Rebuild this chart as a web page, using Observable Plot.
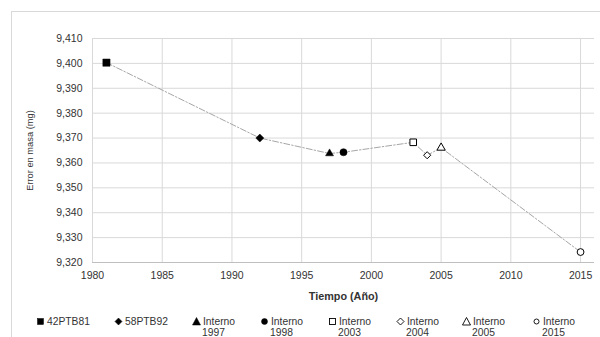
<!DOCTYPE html>
<html>
<head>
<meta charset="utf-8">
<script src="https://cdn.jsdelivr.net/npm/d3@7"></script>
<script src="https://cdn.jsdelivr.net/npm/@observablehq/plot@0.6"></script>
<style>
  html, body { margin: 0; padding: 0; background: #fff; }
  #wrap { position: relative; width: 600px; height: 337px; overflow: hidden; font-family: "Liberation Sans", Arial, sans-serif; color: #333; }
  #frame { position: absolute; left: 11px; top: 11px; width: 640px; height: 400px; border: 1px solid #d9d9d9; box-sizing: border-box; }
  #chart { position: absolute; left: 0; top: 0; }
  #legend { position: absolute; left: 0; top: 0; width: 600px; height: 337px; font-size: 10.3px; line-height: 10.5px; }
  .item { position: absolute; top: 317px; text-align: center; white-space: nowrap; }
  .item svg { vertical-align: -1px; margin-right: 2px; }
</style>
</head>
<body>
<div id="wrap">
  <div id="frame"></div>
  <div id="chart"></div>
  <div id="legend"></div>
</div>
<script>
// ---- data ----
const names = ["42PTB81", "58PTB92", "Interno 1997", "Interno 1998", "Interno 2003", "Interno 2004", "Interno 2005", "Interno 2015"];
const years = [1981, 1992, 1997, 1998, 2003, 2004, 2005, 2015];
const values = [9.4003, 9.3700, 9.3638, 9.3643, 9.3683, 9.3631, 9.3661, 9.3242];
const yTicks = [9.32, 9.33, 9.34, 9.35, 9.36, 9.37, 9.38, 9.39, 9.40, 9.41];
const xTicks = [1980, 1985, 1990, 1995, 2000, 2005, 2010, 2015];
const xTitle = "Tiempo (Año)";
const yTitle = "Error en masa (mg)";

// ---- styles (per series) ----
const styles = {
  "42PTB81":      {symbol: "square2",   filled: true,  r: 4.6, lw: 7},
  "58PTB92":      {symbol: "diamond2",  filled: true,  r: 3.6, lw: 7},
  "Interno 1997": {symbol: "triangle2", filled: true,  r: 3.8, lw: 8},
  "Interno 1998": {symbol: "circle",    filled: true,  r: 3.6, lw: 7},
  "Interno 2003": {symbol: "square2",   filled: false, r: 4.2, lw: 7},
  "Interno 2004": {symbol: "diamond2",  filled: false, r: 3.2, lw: 7},
  "Interno 2005": {symbol: "triangle2", filled: false, r: 4.0, lw: 8},
  "Interno 2015": {symbol: "circle",    filled: false, r: 3.4, lw: 6}
};
const legendX = [36, 114, 192, 260, 328, 396, 462, 532];

const data = names.map((n, i) => ({name: n, year: years[i], value: values[i]}));
const fmt = v => d3.format(".3f")(v).replace(".", ",");

const dotMarks = data.map(d => {
  const s = styles[d.name];
  return Plot.dot([d], {
    x: "year", y: "value", symbol: () => s.symbol, r: s.r,
    fill: s.filled ? "black" : "white", stroke: "black", strokeWidth: s.filled ? 0.5 : 1
  });
});

const chart = Plot.plot({
  width: 600,
  height: 308,
  marginLeft: 92,
  marginRight: 6,
  marginTop: 38,
  marginBottom: 46,
  style: {fontFamily: "'Liberation Sans', Arial, sans-serif", fontSize: "10.5px", color: "#333", background: "transparent"},
  x: {domain: [1980, 2016]},
  y: {domain: [9.32, 9.41]},
  marks: [
    Plot.gridX(xTicks, {stroke: "#d9d9d9", strokeOpacity: 1}),
    Plot.gridY(yTicks, {stroke: "#d9d9d9", strokeOpacity: 1}),
    Plot.ruleY([9.32], {stroke: "#bfbfbf"}),
    Plot.axisX({ticks: xTicks, tickFormat: d => String(d), tickSize: 0, tickPadding: 9, label: null, fontSize: "10.5px"}),
    Plot.axisY({ticks: yTicks, tickFormat: fmt, tickSize: 0, tickPadding: 10, label: null, fontSize: "10.5px"}),
    Plot.line(data, {x: "year", y: "value", curve: "linear", stroke: "#a6a6a6", strokeWidth: 1, strokeDasharray: "6,2,1.5,2"}),
    ...dotMarks,
    Plot.text([xTitle], {text: d => d, frameAnchor: "bottom", dy: 37, fontWeight: "bold", fontSize: 10.8, fill: "#333"}),
    Plot.text([yTitle], {text: d => d, frameAnchor: "left", textAnchor: "middle", dx: -62, rotate: -90, fontSize: 9.3, fill: "#333"})
  ]
});
document.getElementById("chart").appendChild(chart);

// ---- legend ----
function symbolSvg(s) {
  const size = 9, c = size / 2, k = s.lw / 2;
  let shape;
  const fill = s.filled ? "black" : "white";
  if (s.symbol === "square2") shape = `<rect x="${c - k + 0.5}" y="${c - k + 0.5}" width="${s.lw - 1}" height="${s.lw - 1}" />`;
  else if (s.symbol === "diamond2") shape = `<polygon points="${c},${c - k} ${c + k},${c} ${c},${c + k} ${c - k},${c}" />`;
  else if (s.symbol === "triangle2") shape = `<polygon points="${c},${c - k} ${c + k},${c + k - 0.5} ${c - k},${c + k - 0.5}" />`;
  else shape = `<circle cx="${c}" cy="${c}" r="${k - 0.5}" />`;
  return `<svg width="${size}" height="${size}" viewBox="0 0 ${size} ${size}"><g fill="${fill}" stroke="black" stroke-width="${s.filled ? 0.5 : 0.9}">${shape}</g></svg>`;
}
const legend = document.getElementById("legend");
names.forEach((n, i) => {
  const s = styles[n];
  const div = document.createElement("div");
  div.className = "item";
  div.style.left = legendX[i] + "px";
  const parts = n.split(" ");
  div.innerHTML = symbolSvg(s) + parts[0] + (parts[1] ? "<br>" + parts[1] : "");
  legend.appendChild(div);
});
</script>
</body>
</html>
